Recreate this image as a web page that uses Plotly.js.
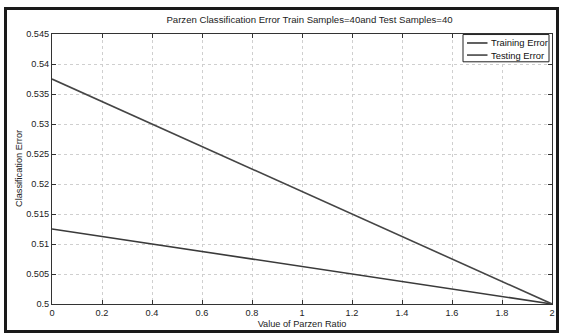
<!DOCTYPE html>
<html><head><meta charset="utf-8">
<script src="https://cdn.plot.ly/plotly-3.0.1.min.js"></script>
<style>
html,body{margin:0;padding:0;background:#fff;}
#frame{position:absolute;left:4px;top:7px;width:549px;height:320px;border:3px solid #1a1a1a;pointer-events:none;z-index:10;}
#chart{position:absolute;left:0;top:0;width:562px;height:334px;}
</style></head>
<body>
<div id="chart"></div>
<div id="frame"></div>
<script>
const parzenRatio = [0, 2];
const trainingError = [0.5125, 0.5];
const testingError = [0.5375, 0.5];
const seriesNames = ['Training Error', 'Testing Error'];
const xTicks = [0, 0.2, 0.4, 0.6, 0.8, 1, 1.2, 1.4, 1.6, 1.8, 2];
const xTickText = ['0','0.2','0.4','0.6','0.8','1','1.2','1.4','1.6','1.8','2'];
const yTicks = [0.5, 0.505, 0.51, 0.515, 0.52, 0.525, 0.53, 0.535, 0.54, 0.545];
const yTickText = ['0.5','0.505','0.51','0.515','0.52','0.525','0.53','0.535','0.54','0.545'];

const fam = 'Liberation Sans, Arial, Helvetica, sans-serif';
const font = {family: fam, size: 9.2, color: '#222'};
const lineColors = ['#3a3a3a', '#454545'];
const traces = [
  {x: parzenRatio, y: trainingError, mode: 'lines', name: seriesNames[0], line: {color: lineColors[0], width: 1.6}},
  {x: parzenRatio, y: testingError, mode: 'lines', name: seriesNames[1], line: {color: lineColors[1], width: 1.6}}
];
const axisCommon = {
  showline: true, mirror: 'allticks', linecolor: '#333', linewidth: 1,
  ticks: 'inside', ticklen: 4, tickcolor: '#333',
  showgrid: true, gridcolor: '#cfcfcf', griddash: 'dot', gridwidth: 1,
  zeroline: false, tickfont: font
};
// custom legend (MATLAB-style compact box)
const legRowsY = [0.9667, 0.922];
const shapes = [
  {type: 'rect', xref: 'paper', yref: 'paper', x0: 0.822, x1: 0.994, y0: 0.897, y1: 0.998,
   line: {color: '#222', width: 1}, fillcolor: '#fff', layer: 'above'}
];
const annotations = [
  {text: 'Classification Error', xref: 'paper', yref: 'paper', x: -0.066, y: 0.5, xanchor: 'center', yanchor: 'middle',
   textangle: -90, showarrow: false, font: font}
];
seriesNames.forEach((n, i) => {
  shapes.push({type: 'line', xref: 'paper', yref: 'paper', x0: 0.83, x1: 0.871, y0: legRowsY[i], y1: legRowsY[i],
    line: {color: lineColors[i], width: 1.6}, layer: 'above'});
  annotations.push({text: n, xref: 'paper', yref: 'paper', x: 0.874, y: legRowsY[i], xanchor: 'left', yanchor: 'middle',
    showarrow: false, font: {family: fam, size: 9.4, color: '#111'}});
});
const layout = {
  width: 562, height: 334,
  margin: {l: 52, r: 10, t: 34, b: 30},
  paper_bgcolor: '#fff', plot_bgcolor: '#fff',
  font: font,
  title: {text: 'Parzen Classification Error Train Samples=40and Test Samples=40', font: {family: fam, size: 9.6, color: '#222'},
    x: 0.515, xref: 'paper', xanchor: 'center', y: 0.94, yanchor: 'middle'},
  xaxis: Object.assign({}, axisCommon, {range: [0, 2], tickvals: xTicks, ticktext: xTickText,
    title: {text: 'Value of Parzen Ratio', font: font, standoff: 3}}),
  yaxis: Object.assign({}, axisCommon, {range: [0.5, 0.545], tickvals: yTicks, ticktext: yTickText}),
  showlegend: false,
  shapes: shapes,
  annotations: annotations
};
Plotly.newPlot('chart', traces, layout, {displayModeBar: false, staticPlot: true});
</script>
</body></html>
